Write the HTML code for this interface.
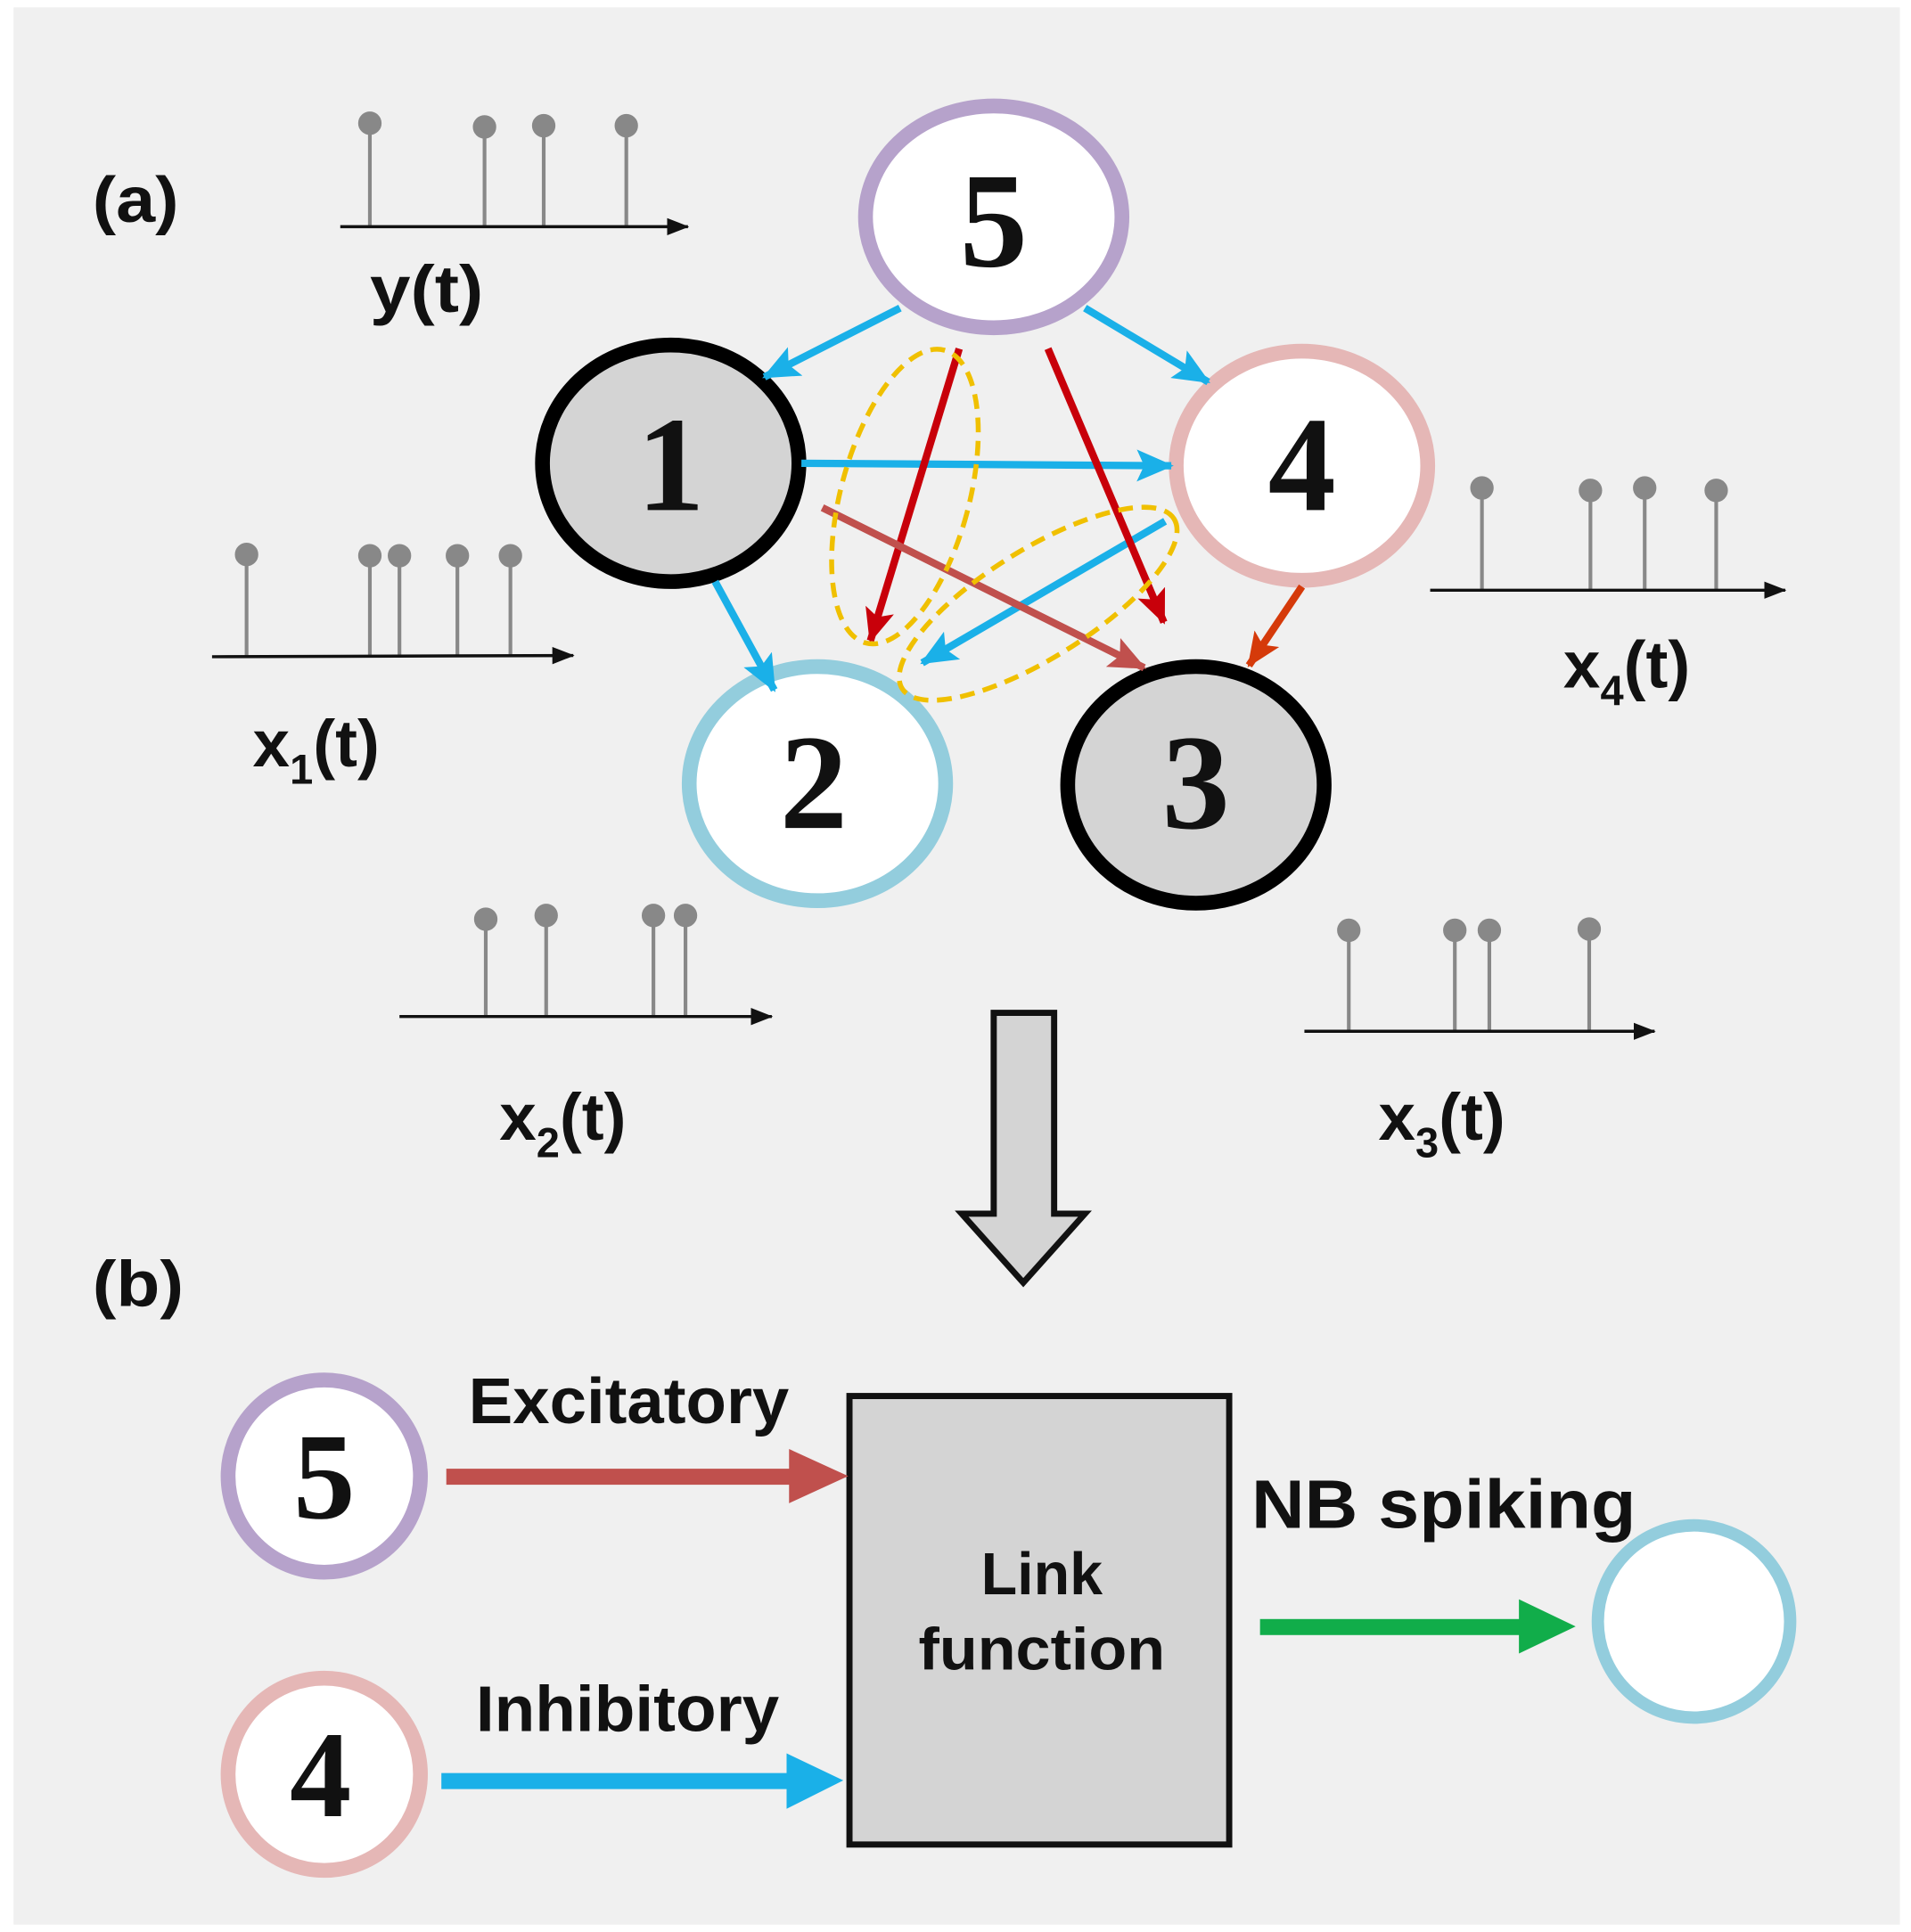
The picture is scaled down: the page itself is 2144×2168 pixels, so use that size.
<!DOCTYPE html>
<html><head><meta charset="utf-8"><style>
html,body{margin:0;padding:0;background:#fff;}
svg{display:block;}
text{font-family:"Liberation Sans",sans-serif;font-weight:bold;fill:#111;}
.n{font-family:"Liberation Serif",serif;font-weight:bold;}
</style></head><body>
<svg width="2144" height="2168" viewBox="0 0 1550 1568" preserveAspectRatio="none" xmlns="http://www.w3.org/2000/svg">
<defs>
<marker id="ab" markerWidth="18" markerHeight="14" refX="17" refY="7" orient="auto" markerUnits="userSpaceOnUse"><path d="M0,0 L18,7 L0,14z" fill="#111"/></marker>
<marker id="mb" markerWidth="30" markerHeight="26" refX="28" refY="13" orient="auto" markerUnits="userSpaceOnUse"><path d="M0,0 L30,13 L0,26 L6,13z" fill="#1ab0e8"/></marker>
<marker id="mr" markerWidth="28" markerHeight="24" refX="26" refY="12" orient="auto" markerUnits="userSpaceOnUse"><path d="M0,0 L28,12 L0,24 L6,12z" fill="#c8000a"/></marker>
<marker id="mp" markerWidth="30" markerHeight="26" refX="28" refY="13" orient="auto" markerUnits="userSpaceOnUse"><path d="M0,0 L30,13 L0,26 L6,13z" fill="#c0504d"/></marker>
<marker id="mo" markerWidth="28" markerHeight="24" refX="26" refY="12" orient="auto" markerUnits="userSpaceOnUse"><path d="M0,0 L28,12 L0,24 L6,12z" fill="#d53a0a"/></marker>
</defs>
<rect x="11" y="6" width="1530" height="1556" fill="#f0f0f0"/>
<text x="75" y="180" font-size="52" textLength="70" lengthAdjust="spacingAndGlyphs">(a)</text>
<text x="75" y="1060" font-size="52" textLength="74" lengthAdjust="spacingAndGlyphs">(b)</text>

<g stroke="#888" stroke-width="3" fill="#888">
<line x1="300" y1="100" x2="300" y2="184"/><circle cx="300" cy="100" r="8"/>
<line x1="393" y1="103" x2="393" y2="184"/><circle cx="393" cy="103" r="8"/>
<line x1="441" y1="102" x2="441" y2="184"/><circle cx="441" cy="102" r="8"/>
<line x1="508" y1="102" x2="508" y2="184"/><circle cx="508" cy="102" r="8"/>
<line x1="200" y1="450" x2="200" y2="533"/><circle cx="200" cy="450" r="8"/>
<line x1="300" y1="451" x2="300" y2="533"/><circle cx="300" cy="451" r="8"/>
<line x1="324" y1="451" x2="324" y2="533"/><circle cx="324" cy="451" r="8"/>
<line x1="371" y1="451" x2="371" y2="533"/><circle cx="371" cy="451" r="8"/>
<line x1="414" y1="451" x2="414" y2="533"/><circle cx="414" cy="451" r="8"/>
<line x1="1202" y1="396" x2="1202" y2="479"/><circle cx="1202" cy="396" r="8"/>
<line x1="1290" y1="398" x2="1290" y2="479"/><circle cx="1290" cy="398" r="8"/>
<line x1="1334" y1="396" x2="1334" y2="479"/><circle cx="1334" cy="396" r="8"/>
<line x1="1392" y1="398" x2="1392" y2="479"/><circle cx="1392" cy="398" r="8"/>
<line x1="394" y1="746" x2="394" y2="825"/><circle cx="394" cy="746" r="8"/>
<line x1="443" y1="743" x2="443" y2="825"/><circle cx="443" cy="743" r="8"/>
<line x1="530" y1="743" x2="530" y2="825"/><circle cx="530" cy="743" r="8"/>
<line x1="556" y1="743" x2="556" y2="825"/><circle cx="556" cy="743" r="8"/>
<line x1="1094" y1="755" x2="1094" y2="837"/><circle cx="1094" cy="755" r="8"/>
<line x1="1180" y1="755" x2="1180" y2="837"/><circle cx="1180" cy="755" r="8"/>
<line x1="1208" y1="755" x2="1208" y2="837"/><circle cx="1208" cy="755" r="8"/>
<line x1="1289" y1="754" x2="1289" y2="837"/><circle cx="1289" cy="754" r="8"/>
</g>
<g stroke="#111" stroke-width="2.5" marker-end="url(#ab)">
<line x1="276" y1="184" x2="558" y2="184"/>
<line x1="172" y1="533" x2="465" y2="532"/>
<line x1="1160" y1="479" x2="1448" y2="479"/>
<line x1="324" y1="825" x2="626" y2="825"/>
<line x1="1058" y1="837" x2="1342" y2="837"/>
</g>
<text x="300" y="253" font-size="54" textLength="92" lengthAdjust="spacingAndGlyphs">y(t)</text>
<text x="205" y="622" font-size="54">x<tspan font-size="34" dy="14">1</tspan><tspan dy="-14">(t)</tspan></text>
<text x="1268" y="558" font-size="54">x<tspan font-size="34" dy="14">4</tspan><tspan dy="-14">(t)</tspan></text>
<text x="405" y="925" font-size="54">x<tspan font-size="34" dy="14">2</tspan><tspan dy="-14">(t)</tspan></text>
<text x="1118" y="925" font-size="54">x<tspan font-size="34" dy="14">3</tspan><tspan dy="-14">(t)</tspan></text>

<ellipse cx="806" cy="176" rx="104" ry="90" fill="#fff" stroke="#b6a2cb" stroke-width="12"/>
<ellipse cx="544" cy="376" rx="104" ry="96" fill="#d4d4d4" stroke="#000" stroke-width="12"/>
<ellipse cx="1056" cy="378" rx="102" ry="93" fill="#fff" stroke="#e5b7b6" stroke-width="12"/>
<ellipse cx="663" cy="636" rx="104" ry="95" fill="#fff" stroke="#93cddd" stroke-width="12"/>
<ellipse cx="970" cy="637" rx="104" ry="96" fill="#d4d4d4" stroke="#000" stroke-width="12"/>
<text class="n" x="806" y="216" font-size="110" text-anchor="middle">5</text>
<text class="n" x="544" y="414" font-size="110" text-anchor="middle">1</text>
<text class="n" x="1056" y="414" font-size="110" text-anchor="middle">4</text>
<text class="n" x="660" y="672" font-size="110" text-anchor="middle">2</text>
<text class="n" x="970" y="672" font-size="110" text-anchor="middle">3</text>

<g stroke-width="6" fill="none">
<line x1="730" y1="250" x2="620" y2="306" stroke="#1ab0e8" marker-end="url(#mb)"/>
<line x1="880" y1="250" x2="980" y2="310" stroke="#1ab0e8" marker-end="url(#mb)"/>
<line x1="650" y1="376" x2="950" y2="378" stroke="#1ab0e8" marker-end="url(#mb)"/>
<line x1="580" y1="472" x2="628" y2="560" stroke="#1ab0e8" marker-end="url(#mb)"/>
<line x1="945" y1="423" x2="748" y2="538" stroke="#1ab0e8" marker-end="url(#mb)"/>
<line x1="778" y1="283" x2="706" y2="520" stroke="#c8000a" marker-end="url(#mr)"/>
<line x1="850" y1="283" x2="944" y2="505" stroke="#c8000a" marker-end="url(#mr)"/>
<line x1="667" y1="412" x2="928" y2="542" stroke="#c0504d" marker-end="url(#mp)"/>
<line x1="1056" y1="476" x2="1013" y2="540" stroke="#d53a0a" marker-end="url(#mo)"/>
</g>
<g fill="none" stroke="#f0c000" stroke-width="4" stroke-dasharray="12,7">
<ellipse cx="734" cy="403" rx="52" ry="123" transform="rotate(15 734 403)"/>
<ellipse cx="842" cy="490" rx="130" ry="44" transform="rotate(-32 842 490)"/>
</g>

<path d="M806,822 L855,822 L855,985 L880,985 L830,1041 L780,985 L806,985 Z" fill="#d4d4d4" stroke="#111" stroke-width="5"/>

<circle cx="263" cy="1198" r="78" fill="#fff" stroke="#b6a2cb" stroke-width="12"/>
<circle cx="263" cy="1440" r="78" fill="#fff" stroke="#e5b7b6" stroke-width="12"/>
<circle cx="1374" cy="1316" r="78" fill="#fff" stroke="#93cddd" stroke-width="10"/>
<text class="n" x="263" y="1232" font-size="100" text-anchor="middle">5</text>
<text class="n" x="260" y="1474" font-size="100" text-anchor="middle">4</text>
<rect x="689" y="1133" width="308" height="364" fill="#d4d4d4" stroke="#111" stroke-width="5"/>
<text x="845" y="1294" font-size="48" text-anchor="middle">Link</text>
<text x="845" y="1355" font-size="48" text-anchor="middle" textLength="200" lengthAdjust="spacingAndGlyphs">function</text>
<text x="380" y="1155" font-size="52" textLength="260" lengthAdjust="spacingAndGlyphs">Excitatory</text>
<text x="386" y="1405" font-size="52" textLength="246" lengthAdjust="spacingAndGlyphs">Inhibitory</text>
<text x="1015" y="1240" font-size="56" textLength="312" lengthAdjust="spacingAndGlyphs">NB spiking</text>
<rect x="362" y="1192" width="282" height="13" fill="#c0504d"/>
<path d="M640,1176 L688,1198 L640,1220z" fill="#c0504d"/>
<rect x="358" y="1439" width="284" height="13" fill="#1ab0e8"/>
<path d="M638,1423 L684,1445 L638,1468z" fill="#1ab0e8"/>
<rect x="1022" y="1314" width="214" height="13" fill="#11ad4a"/>
<path d="M1232,1298 L1278,1320 L1232,1342z" fill="#11ad4a"/>
</svg>
</body></html>
